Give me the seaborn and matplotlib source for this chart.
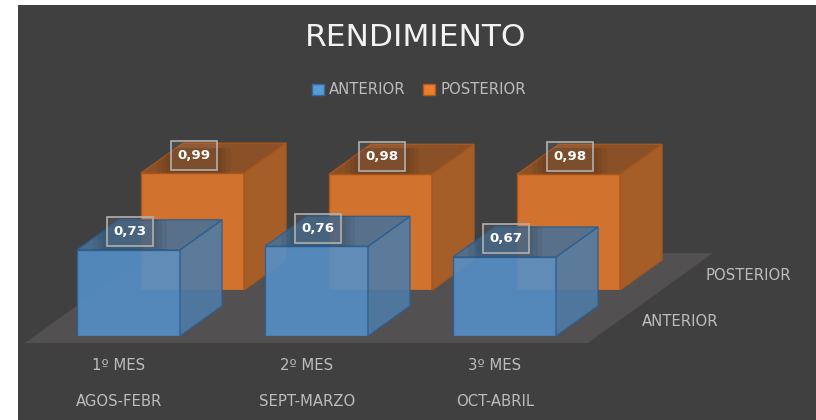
#!/usr/bin/env python3
"""RENDIMIENTO: 3D-look column chart, two rows of seaborn bars with drawn depth faces."""
import matplotlib
matplotlib.use("Agg")
import matplotlib.pyplot as plt
import pandas as pd
import seaborn as sns
from matplotlib.patches import Patch, Polygon, Rectangle

MONTHS = ["1º MES", "2º MES", "3º MES"]
PERIODS = ["AGOS-FEBR", "SEPT-MARZO", "OCT-ABRIL"]
ANTERIOR = [0.73, 0.76, 0.67]
POSTERIOR = [0.99, 0.98, 0.98]

W, H = 816, 420
BG = "#404040"
FLOOR = "#525051"
TEXT = "#bdbdbd"
STEP = 188      # px between categories
SCALE = 118     # px per unit of value
DX, DY = 42, 30 # depth of the boxes, px
YMAX = 1.2
FS = 10.7

sns.set_style("white")
plt.rcParams["font.family"] = ["DejaVu Sans"]

fig = plt.figure(figsize=(W / 100, H / 100), dpi=100, facecolor="white")

# backdrop in pixel coordinates
bg = fig.add_axes([0, 0, 1, 1])
bg.set_xlim(0, W)
bg.set_ylim(H, 0)
bg.axis("off")
bg.add_patch(Rectangle((18, 5), W - 18, H - 5, fc=BG, ec="none"))
bg.add_patch(Polygon([(25, 343), (588, 343), (713, 253), (150, 253)], fc=FLOOR, ec="none"))


def row_axes(center0, baseline):
    left = center0 - STEP / 2
    ax = fig.add_axes([left / W, 1 - baseline / H, 3 * STEP / W, YMAX * SCALE / H])
    ax.patch.set_alpha(0)
    return ax


def draw_row(ax, values, front, side, top, edge, alpha):
    df = pd.DataFrame({"mes": MONTHS, "valor": values})
    sns.barplot(data=df, x="mes", y="valor", ax=ax, color=front, saturation=1,
                width=103 / STEP, alpha=alpha, edgecolor=edge, linewidth=1)
    ax.set_xlim(-0.5, 2.5)
    ax.set_ylim(0, YMAX)
    ax.axis("off")
    dx, dy = DX / STEP, DY / SCALE
    for bar, v in zip(list(ax.patches), values):
        x0 = bar.get_x()
        x1 = x0 + bar.get_width()
        ax.add_patch(Polygon([(x1, 0), (x1 + dx, dy), (x1 + dx, v + dy), (x1, v)],
                             fc=side, ec=edge, lw=1, alpha=alpha, clip_on=False))
        top_face = Polygon([(x0, v), (x1, v), (x1 + dx, v + dy), (x0 + dx, v + dy)],
                           fc=top, ec=edge, lw=1, alpha=alpha, clip_on=False)
        ax.add_patch(top_face)
        cx = x0 + bar.get_width() / 2 + 1 / STEP
        cy = v + 18 / SCALE
        # soft shadow round the label box, kept on the top face
        for grow in (14, 9, 5):
            shade = Rectangle((cx - (23 + grow) / STEP, cy - (14.5 + grow * 0.6) / SCALE),
                              (46 + 2 * grow) / STEP, (29 + 1.2 * grow) / SCALE,
                              fc="black", ec="none", alpha=0.05, zorder=4)
            ax.add_patch(shade)
            shade.set_clip_path(top_face)
        ax.add_patch(Rectangle((cx - 23 / STEP, cy - 14.5 / SCALE), 46 / STEP, 29 / SCALE,
                               fc=(1, 1, 1, 0.06), ec="#b0b0b0", lw=1.2, clip_on=False, zorder=5))
        ax.text(cx, cy, f"{v:.2f}".replace(".", ","), ha="center", va="center",
                color="white", fontsize=9.6, fontweight="bold", zorder=6)


ax_post = row_axes(192.5, 290)
draw_row(ax_post, POSTERIOR, "#d2722f", "#a65e28", "#8a5128", "#a9561c", 1)

ax_ant = row_axes(128.5, 336)
draw_row(ax_ant, ANTERIOR, "#558fc8", "#4f7ca6", "#4b7094", "#2e5f8f", 0.9)

# category labels sit left of the bar centres, below the floor
for i, (m, p) in enumerate(zip(MONTHS, PERIODS)):
    ax_ant.annotate(m, (i, 0), xytext=(-7, -21.5), textcoords="offset points", ha="center", va="center",
                    color=TEXT, fontsize=FS, annotation_clip=False)
    ax_ant.annotate(p, (i, 0), xytext=(-7, -47), textcoords="offset points", ha="center", va="center",
                    color=TEXT, fontsize=FS, annotation_clip=False)

bg.text(680, 321, "ANTERIOR", color=TEXT, fontsize=FS, ha="center", va="center")
bg.text(748, 275, "POSTERIOR", color=TEXT, fontsize=FS, ha="center", va="center")

bg.text(416, 37, "RENDIMIENTO", color="#f2f2f2", fontsize=22.5, ha="center", va="center")

handles = [Patch(fc="#5b9bd5", ec="#2e6da4", label="ANTERIOR"),
           Patch(fc="#ed7d31", ec="#b5591c", label="POSTERIOR")]
fig.legend(handles=handles, loc="center", bbox_to_anchor=(419 / W, 1 - 90 / H), ncol=2, frameon=False,
           fontsize=FS, labelcolor=TEXT, handlelength=0.8, handleheight=0.8,
           handletextpad=0.35, columnspacing=1.2)

fig.savefig("out.png", dpi=100)
